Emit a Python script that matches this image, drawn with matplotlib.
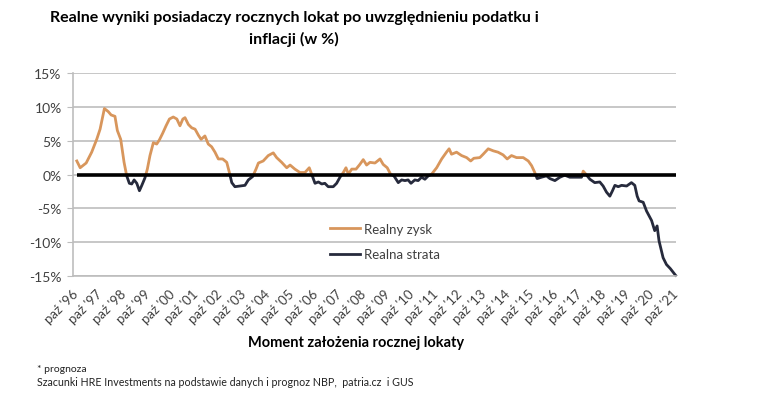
import numpy as np
import matplotlib.pyplot as plt
from matplotlib.patches import Rectangle

plt.rcParams['font.family'] = ['Lato', 'DejaVu Sans']

# Moment założenia lokaty (ułamek roku) i realny wynik w %
lata = [1996.76, 1996.90, 1997.15, 1997.38, 1997.59, 1997.73, 1997.91, 1998.07, 1998.19, 1998.35,
        1998.45, 1998.59, 1998.73, 1998.84, 1998.95, 1999.05, 1999.15, 1999.26, 1999.37, 1999.47,
        1999.60, 1999.70, 1999.81, 1999.95, 2000.09, 2000.20, 2000.34, 2000.48, 2000.62, 2000.78,
        2000.93, 2001.06, 2001.18, 2001.27, 2001.41, 2001.55, 2001.69, 2001.83, 2001.94, 2002.10,
        2002.24, 2002.38, 2002.52, 2002.66, 2002.84, 2003.01, 2003.12, 2003.22, 2003.35, 2003.56,
        2003.77, 2003.91, 2004.09, 2004.23, 2004.33, 2004.53, 2004.74, 2004.95, 2005.09, 2005.30,
        2005.51, 2005.65, 2005.85, 2006.06, 2006.27, 2006.45, 2006.55, 2006.69, 2006.83, 2006.97,
        2007.10, 2007.24, 2007.45, 2007.59, 2007.73, 2007.87, 2007.98, 2008.08, 2008.22, 2008.40,
        2008.56, 2008.70, 2008.84, 2008.98, 2009.19, 2009.40, 2009.53, 2009.70, 2009.84, 2009.98,
        2010.16, 2010.30, 2010.44, 2010.57, 2010.69, 2010.85, 2010.99, 2011.13, 2011.27, 2011.41,
        2011.55, 2011.76, 2011.97, 2012.17, 2012.28, 2012.38, 2012.59, 2012.80, 2013.01, 2013.18,
        2013.31, 2013.56, 2013.70, 2013.91, 2014.12, 2014.32, 2014.53, 2014.70, 2014.88, 2015.09,
        2015.37, 2015.58, 2015.72, 2015.85, 2015.95, 2016.13, 2016.34, 2016.48, 2016.69, 2016.90,
        2017.10, 2017.31, 2017.80, 2017.87, 2017.98, 2018.15, 2018.35, 2018.56, 2018.70, 2018.84,
        2018.98, 2019.09, 2019.19, 2019.33, 2019.47, 2019.68, 2019.88, 2020.02, 2020.12, 2020.20,
        2020.37, 2020.51, 2020.72, 2020.85, 2020.95, 2021.03, 2021.20, 2021.34, 2021.50, 2021.72]

wynik = [2.0, 1.0, 1.7, 3.3, 5.2, 6.7, 9.75, 9.3, 8.8, 8.6,
         6.5, 5.2, 1.8, -0.2, -1.3, -1.4, -0.8, -1.3, -2.4, -1.6,
         -0.5, 0.8, 2.8, 4.7, 4.5, 5.1, 6.1, 7.2, 8.2, 8.5,
         8.2, 7.2, 8.2, 8.4, 7.4, 6.9, 6.7, 5.8, 5.2, 5.7,
         4.5, 4.1, 3.3, 2.3, 2.3, 1.8, 0.3, -1.2, -1.8, -1.7,
         -1.6, -0.8, -0.3, 0.8, 1.7, 2.0, 2.8, 3.2, 2.5, 1.8,
         1.0, 1.4, 0.8, 0.3, 0.3, 1.0, 0.05, -1.3, -1.1, -1.4,
         -1.3, -1.8, -1.8, -1.3, -0.4, 0.3, 1.0, 0.05, 0.8, 0.8,
         1.5, 2.2, 1.4, 1.8, 1.7, 2.3, 1.5, 1.0, 0.05, -0.2,
         -1.2, -0.8, -0.9, -0.8, -1.3, -0.8, -0.9, -0.4, -0.7, -0.2,
         0.05, 1.0, 2.3, 3.3, 3.8, 3.0, 3.3, 2.8, 2.5, 2.0,
         2.4, 2.5, 3.0, 3.8, 3.5, 3.3, 2.9, 2.3, 2.8, 2.5,
         2.5, 2.0, 1.3, 0.3, -0.6, -0.4, -0.2, -0.6, -0.9, -0.4,
         -0.1, -0.4, -0.4, 0.5, 0.05, -0.7, -1.2, -1.1, -1.7, -2.6,
         -3.2, -2.4, -1.6, -1.8, -1.6, -1.7, -1.2, -1.6, -3.2, -3.9,
         -4.1, -5.4, -6.8, -8.3, -7.6, -9.8, -12.3, -13.3, -13.9, -14.9]

tick_lata = [1996.75 + k for k in range(26)]
etykiety = ["paź '%02d" % ((1996 + k) % 100) for k in range(26)]
y_ticks = [-15, -10, -5, 0, 5, 10, 15]

kolor_zysk = '#D8965C'
kolor_strata = '#262A3C'

fig = plt.figure(figsize=(7.64, 4.06), dpi=100)
ax = fig.add_axes([0.0952, 0.3177, 0.790, 0.500])

# ta sama linia dwa razy, przycięta powyżej / poniżej zera
l_zysk, = ax.plot(lata, wynik, color=kolor_zysk, lw=2.0, label='Realny zysk', solid_joinstyle='round')
l_strata, = ax.plot(lata, wynik, color=kolor_strata, lw=2.0, label='Realna strata', solid_joinstyle='round')
l_zysk.set_clip_path(Rectangle((1990, 0), 40, 30, transform=ax.transData))
l_strata.set_clip_path(Rectangle((1990, -30), 40, 30, transform=ax.transData))

ax.hlines(0, lata[0], lata[-1], color='black', lw=2.6, zorder=3)

ax.set_xlim(1996.59, 2021.75)
ax.set_ylim(-15, 15)
ax.set_yticks(y_ticks)
ax.set_yticklabels(['%d%%' % v for v in y_ticks])
ax.set_xticks(tick_lata)
ax.set_xticklabels(etykiety, rotation=45, ha='right', va='center', rotation_mode='anchor')

ax.yaxis.grid(True, color='#BDBDBD', lw=1.2)
ax.set_axisbelow(True)
for s in ['top', 'right']:
    ax.spines[s].set_visible(False)
ax.spines['left'].set_color('#BDBDBD')
ax.spines['bottom'].set_color('#BDBDBD')
ax.spines['left'].set_linewidth(1.2)
ax.spines['bottom'].set_linewidth(1.2)
ax.tick_params(axis='y', length=4, color='#BDBDBD', labelsize=10, labelcolor='#404040', pad=4)
ax.tick_params(axis='x', length=0, labelsize=9.5, labelcolor='#404040', pad=11)

fig.legend(handles=[l_zysk, l_strata], loc='upper left', bbox_to_anchor=(0.432, 0.448),
           frameon=False, fontsize=9.5, handlelength=2.3, handletextpad=0.3,
           labelspacing=1.0, borderpad=0, borderaxespad=0, labelcolor='#404040')

fig.text(0.385, 0.972, 'Realne wyniki posiadaczy rocznych lokat po uwzględnieniu podatku i\ninflacji (w %)',
         ha='center', va='top', fontsize=11.5, fontweight='bold', linespacing=1.55)
fig.text(0.466, 0.155, 'Moment założenia rocznej lokaty', ha='center', va='center',
         fontsize=10.5, fontweight='bold')
fig.text(0.048, 0.091, '* prognoza', ha='left', va='center', fontsize=7.5, color='#222222')
fig.text(0.048, 0.057, 'Szacunki HRE Investments na podstawie danych i prognoz NBP,  patria.cz  i GUS',
         ha='left', va='center', fontsize=7.7, color='#222222')

fig.savefig('out.png', dpi=100)
